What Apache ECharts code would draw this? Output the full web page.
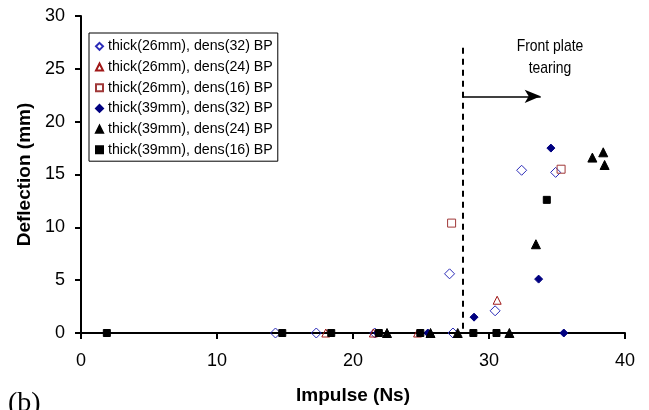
<!DOCTYPE html>
<html><head><meta charset="utf-8">
<script src="https://cdn.jsdelivr.net/npm/echarts@6/dist/echarts.min.js"></script>
<style>html,body{margin:0;padding:0;background:#fff}#c{width:649px;height:410px}</style>
</head><body><div id="c"></div>
<script>
// Data: [impulse (Ns), deflection (mm)]
const seriesNames = [
  'thick(26mm), dens(32) BP',
  'thick(26mm), dens(24) BP',
  'thick(26mm), dens(16) BP',
  'thick(39mm), dens(32) BP',
  'thick(39mm), dens(24) BP',
  'thick(39mm), dens(16) BP'
];
const t26d32 = [[14.3,0],[17.3,0],[21.6,0],[27.35,0],[27.1,5.6],[30.45,2.1],[32.4,15.4],[34.9,15.2]];
const t26d24 = [[18.0,0],[21.5,0],[24.75,0],[30.6,3.1]];
const t26d16 = [[27.25,10.4],[35.3,15.5]];
const t39d32 = [[21.8,0],[25.5,0],[28.9,1.5],[33.65,5.1],[34.55,17.5],[35.5,0]];
const t39d24 = [[22.5,0],[25.7,0],[27.7,0],[31.5,0],[33.45,8.4],[37.6,16.6],[38.4,17.1],[38.5,15.9]];
const t39d16 = [[1.9,0],[14.8,0],[18.4,0],[21.9,0],[24.95,0],[28.85,0],[30.55,0],[34.25,12.6]];
const xTicks = [0,10,20,30,40];
const yTicks = [0,5,10,15,20,25,30];
// Annotation (data units)
const tearX = 28.05, tearTop = 27.0, arrowY = 22.4, arrowEnd = 33.8;
const annotText = 'Front plate\ntearing';

const chart = echarts.init(document.getElementById('c'));
const font = 'Liberation Sans, Arial, sans-serif';
const open = 'rgba(255,255,255,0)';
function mk(name, data, symbol, size, fill, border) {
  return {
    name, type: 'scatter', data, symbol, symbolSize: size,
    itemStyle: { color: fill, borderColor: border, borderWidth: 1, opacity: 1 },
    emphasis: { disabled: true }
  };
}
const series = [
  mk(seriesNames[0], t26d32, 'diamond', 10, open, '#2b2bb8'),
  mk(seriesNames[1], t26d24, 'triangle', 8, open, '#a01818'),
  mk(seriesNames[2], t26d16, 'rect', 8, open, '#a03838'),
  mk(seriesNames[3], t39d32, 'diamond', 8, '#000080', '#000080'),
  mk(seriesNames[4], t39d24, 'triangle', 9, '#000000', '#000000'),
  mk(seriesNames[5], t39d16, 'rect', 7, '#000000', '#000000')
];
series.push({
  type: 'line', data: [], silent: true,
  markLine: {
    silent: true, animation: false, symbol: ['none','none'], label: {show:false},
    lineStyle: { color: '#000', type: [6,5], width: 2 },
    data: [[{coord:[tearX, tearTop]},{coord:[tearX, 0]}]]
  }
});
series.push({
  type: 'line', data: [], silent: true,
  markLine: {
    silent: true, animation: false, symbol: ['none','arrow'], symbolSize: [10,16], label: {show:false},
    lineStyle: { color: '#000', type: 'solid', width: 1.5 },
    data: [[{coord:[tearX, arrowY]},{coord:[arrowEnd, arrowY]}]]
  }
});

chart.setOption({
  animation: false,
  backgroundColor: '#fff',
  grid: { left: 81, right: 24, top: 16, bottom: 77, containLabel: false },
  xAxis: {
    type: 'value', min: xTicks[0], max: xTicks[xTicks.length-1], interval: 10,
    name: 'Impulse (Ns)', nameLocation: 'middle', nameGap: 53,
    nameTextStyle: { fontFamily: font, fontWeight: 'bold', fontSize: 19, color: '#000' },
    axisLine: { lineStyle: { color: '#000', width: 2 } },
    axisTick: { show: true, length: 6, lineStyle: { color: '#000', width: 2 } },
    axisLabel: { fontFamily: font, fontSize: 18, color: '#000', margin: 19 },
    splitLine: { show: false }
  },
  yAxis: {
    type: 'value', min: yTicks[0], max: yTicks[yTicks.length-1], interval: 5,
    name: 'Deflection (mm)', nameLocation: 'middle', nameGap: 44, nameRotate: 90,
    nameTextStyle: { fontFamily: font, fontWeight: 'bold', fontSize: 19, color: '#000' },
    axisLine: { show: true, lineStyle: { color: '#000', width: 2 } },
    axisTick: { show: true, length: 6, lineStyle: { color: '#000', width: 2 } },
    axisLabel: { fontFamily: font, fontSize: 18, color: '#000', margin: 16 },
    splitLine: { show: false }
  },
  legend: {
    data: seriesNames, orient: 'vertical', left: 89, top: 33,
    backgroundColor: '#fff', borderColor: '#000', borderWidth: 1,
    padding: [5, 5, 3, 6], itemWidth: 7, itemHeight: 7, itemGap: 4,
    selectedMode: false,
    textStyle: { fontFamily: font, fontSize: 14.2, color: '#000', lineHeight: 16.7 }
  },
  graphic: [
    { type: 'text', x: 550, y: 35, scaleX: 0.82, style: { text: annotText, x: 0, y: 0, fontFamily: font, fontSize: 17, fill: '#000', align: 'center', verticalAlign: 'top', lineHeight: 22 } },
    { type: 'text', left: 8, top: 390, style: { text: '(b)', fontFamily: 'Liberation Serif, Times New Roman, serif', fontSize: 28, fill: '#000' } }
  ],
  series
});
</script></body></html>
